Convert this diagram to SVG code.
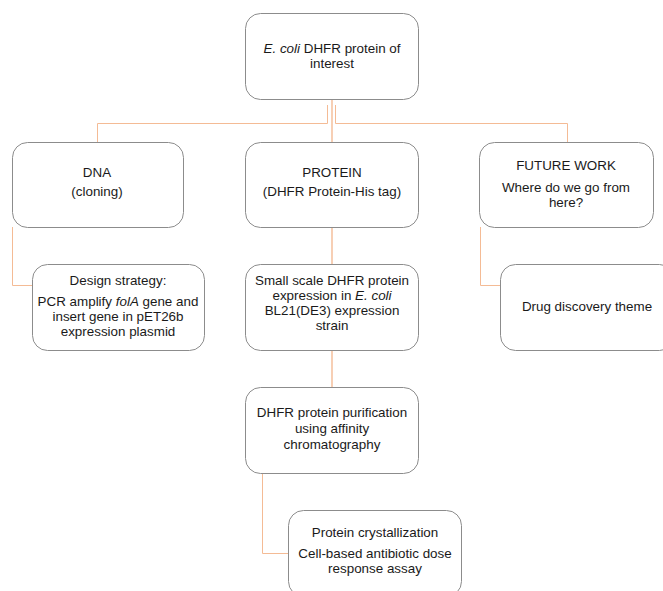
<svg xmlns="http://www.w3.org/2000/svg" width="663" height="591" viewBox="0 0 663 591">
<style>
.box{fill:#fff;stroke:#8c8c8c;stroke-width:1}
.t{font-family:"Liberation Sans",Arial,sans-serif;font-size:13.4px;fill:#1a1a1a;text-anchor:middle}
.o{fill:none;stroke:#f4bb95;stroke-width:1}
.m{fill:none;stroke:#f4bb95;stroke-width:1.4}
</style>
<rect width="663" height="591" fill="#fff"/>
<g id="connectors">
<path class="o" d="M327.5,105V123.5H97.5V142"/>
<path class="o" d="M335.5,105V123.5H567.5V142"/>
<path class="m" d="M332,99V142"/>
<path class="o" d="M12.5,227V285.5H32"/>
<path class="m" d="M332,227V264"/>
<path class="o" d="M480.5,227V285.5H500"/>
<path class="m" d="M332,350V387"/>
<path class="o" d="M262.5,473V553.5H288"/>
</g>
<g id="top">
<rect class="box" x="245.5" y="13.5" width="173" height="86" rx="15"/>
<text class="t" x="332" y="53"><tspan font-style="italic">E. coli</tspan> DHFR protein of</text>
<text class="t" x="332" y="68">interest</text>
</g>
<g id="dna">
<rect class="box" x="12.5" y="142.5" width="171" height="85" rx="15"/>
<text class="t" x="97" y="177">DNA</text>
<text class="t" x="97" y="196">(cloning)</text>
</g>
<g id="protein">
<rect class="box" x="245.5" y="142.5" width="173" height="85" rx="15"/>
<text class="t" x="332" y="177">PROTEIN</text>
<text class="t" x="332" y="196">(DHFR Protein-His tag)</text>
</g>
<g id="future">
<rect class="box" x="479.5" y="142.5" width="174" height="85" rx="15"/>
<text class="t" x="566" y="170">FUTURE WORK</text>
<text class="t" x="566" y="192">Where do we go from</text>
<text class="t" x="566" y="207">here?</text>
</g>
<g id="design">
<rect class="box" x="32.5" y="264.5" width="172" height="86" rx="15"/>
<text class="t" x="118" y="285">Design strategy:</text>
<text class="t" x="118" y="306">PCR amplify <tspan font-style="italic">folA</tspan> gene and</text>
<text class="t" x="118" y="321">insert gene in pET26b</text>
<text class="t" x="118" y="336">expression plasmid</text>
</g>
<g id="smallscale">
<rect class="box" x="245.5" y="264.5" width="173" height="86" rx="15"/>
<text class="t" x="332" y="285">Small scale DHFR protein</text>
<text class="t" x="332" y="300">expression in  <tspan font-style="italic">E. coli</tspan></text>
<text class="t" x="332" y="315">BL21(DE3) expression</text>
<text class="t" x="332" y="330">strain</text>
</g>
<g id="drug">
<rect class="box" x="500.5" y="264.5" width="174" height="86" rx="15"/>
<text class="t" x="587" y="311">Drug discovery theme</text>
</g>
<g id="purification">
<rect class="box" x="245.5" y="387.5" width="173" height="86" rx="15"/>
<text class="t" x="332" y="417">DHFR protein purification</text>
<text class="t" x="332" y="433">using affinity</text>
<text class="t" x="332" y="449">chromatography</text>
</g>
<g id="crystal">
<rect class="box" x="288.5" y="510.5" width="173" height="86" rx="15"/>
<text class="t" x="375" y="537">Protein crystallization</text>
<text class="t" x="375" y="558">Cell-based antibiotic dose</text>
<text class="t" x="375" y="573">response assay</text>
</g>
</svg>
